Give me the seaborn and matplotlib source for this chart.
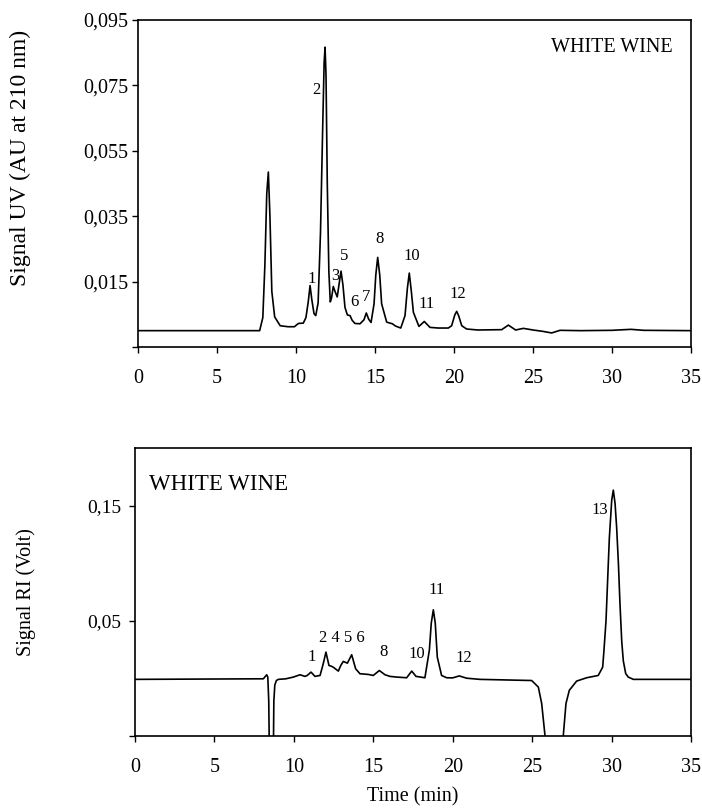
import matplotlib
matplotlib.use("Agg")
import matplotlib.pyplot as plt
import seaborn as sns
import pandas as pd

# ---------------- data ----------------
uv_time = [0, 7.7, 7.9, 8.03, 8.15, 8.25, 8.35, 8.47, 8.65, 9.0, 9.5, 9.9, 10.15, 10.46,
           10.63, 10.78, 10.89, 11.0, 11.14, 11.25, 11.40, 11.55, 11.68, 11.78, 11.84,
           11.90, 11.98, 12.08, 12.17, 12.25, 12.36, 12.47, 12.61, 12.72, 12.85, 12.97,
           13.1, 13.25, 13.42, 13.55, 13.73, 14.05, 14.3, 14.45, 14.6, 14.75, 14.94,
           15.05, 15.17, 15.3, 15.42, 15.74, 16.1, 16.3, 16.63, 16.9, 17.05, 17.17,
           17.3, 17.43, 17.78, 18.12, 18.48, 19.0, 19.64, 19.85, 20.05, 20.17, 20.3,
           20.49, 20.8, 21.5, 23.02, 23.44, 23.9, 24.39, 25.0, 25.6, 26.18, 26.71, 28,
           30, 31.2, 32, 35]
uv_signal = [0.0, 0.0, 0.004, 0.02, 0.042, 0.0485, 0.035, 0.012, 0.0042, 0.0015, 0.0012,
             0.0012, 0.0022, 0.0023, 0.004, 0.009, 0.0138, 0.0095, 0.0052, 0.0046, 0.0085,
             0.030, 0.060, 0.082, 0.0867, 0.078, 0.045, 0.018, 0.0088, 0.010, 0.0135,
             0.012, 0.0103, 0.014, 0.0182, 0.014, 0.0071, 0.0048, 0.0046, 0.0032, 0.0022,
             0.0021, 0.0033, 0.0054, 0.0035, 0.0025, 0.0082, 0.017, 0.0224, 0.017, 0.0082,
             0.0026, 0.0021, 0.0014, 0.0008, 0.0046, 0.013, 0.0176, 0.012, 0.0056, 0.0013,
             0.0028, 0.0010, 0.0008, 0.0008, 0.0015, 0.0048, 0.0059, 0.0045, 0.0015,
             0.0005, 0.0002, 0.0003, 0.0017, 0.0002, 0.0007, 0.0002, -0.0002, -0.0007,
             0.0001, 0.0, 0.0001, 0.0004, 0.0001, 0.0]

ri_time = [0, 8.08, 8.29, 8.36, 8.42, 8.47, 8.70, 8.74, 8.80, 8.90, 9.02, 9.5, 9.97, 10.39,
           10.7, 10.85, 11.08, 11.33, 11.65, 11.85, 12.02, 12.21, 12.35, 12.48, 12.8,
           12.95, 13.11, 13.37, 13.64, 13.89, 14.16, 14.69, 15.0, 15.38, 15.74, 16.05,
           16.47, 17.1, 17.42, 17.69, 18.25, 18.53, 18.65, 18.78, 18.9, 19.03, 19.3,
           19.62, 20.0, 20.41, 20.88, 21.72, 24.97, 25.39, 25.6, 25.81, 25.9, 26.9,
           26.96, 27.13, 27.34, 27.8, 28.43, 29.16, 29.44, 29.52, 29.65, 29.76, 29.86,
           30.01, 30.11, 30.22, 30.32, 30.43, 30.53, 30.64, 30.74, 30.89, 31.05, 31.37, 35]
ri_signal = [-0.001, -0.0005, 0.003, 0.001, -0.02, -0.08, -0.08, -0.02, -0.006, -0.002,
             -0.001, -0.0005, 0.001, 0.003, 0.0016, 0.0025, 0.0053, 0.0016, 0.0024, 0.0126,
             0.0227, 0.0111, 0.0105, 0.0096, 0.0062, 0.011, 0.0146, 0.0131, 0.0204, 0.0082,
             0.0039, 0.0033, 0.0024, 0.0067, 0.003, 0.0016, 0.001, 0.0004, 0.0062, 0.0016,
             0.0004, 0.0244, 0.048, 0.0595, 0.048, 0.0183, 0.0024, 0.0004, 0.0003, 0.002,
             0.0, -0.001, -0.002, -0.0077, -0.022, -0.05, -0.08, -0.08, -0.05, -0.022,
             -0.0105, -0.0025, 0.0004, 0.0024, 0.0096, 0.024, 0.05, 0.088, 0.122, 0.155,
             0.1636, 0.152, 0.131, 0.100, 0.0644, 0.032, 0.015, 0.004, 0.001, -0.001, -0.001]

x_ticks = [0, 5, 10, 15, 20, 25, 30, 35]
uv_yticks = [-0.005, 0.015, 0.035, 0.055, 0.075, 0.095]
uv_yticklabels = ["", "0,015", "0,035", "0,055", "0,075", "0,095"]
ri_yticks = [-0.05, 0.05, 0.15]
ri_yticklabels = ["", "0,05", "0,15"]

uv_peak_labels = ["1", "2", "3", "5", "6", "7", "8", "10", "11", "12"]
uv_label_x = [10.99, 11.31, 12.51, 13.04, 13.67, 14.43, 15.32, 17.36, 18.27, 20.27]
uv_label_y = [0.0158, 0.0735, 0.0168, 0.0227, 0.0089, 0.0102, 0.0281, 0.0227, 0.0082, 0.0112]

ri_peak_labels = ["1", "2 4 5 6", "8", "10", "11", "12", "13"]
ri_label_x = [11.12, 13.05, 15.63, 17.73, 18.99, 20.67, 29.27]
ri_label_y = [0.0183, 0.035, 0.0226, 0.0212, 0.0765, 0.0178, 0.1465]

# ---------------- style ----------------
sns.set_style("ticks")
plt.rcParams["font.family"] = ["Liberation Serif", "DejaVu Serif"]
plt.rcParams["axes.linewidth"] = 1.2
plt.rcParams["text.color"] = "black"
plt.rcParams["axes.labelcolor"] = "black"
plt.rcParams["xtick.color"] = "black"
plt.rcParams["ytick.color"] = "black"

fig = plt.figure(figsize=(7.02, 8.09), dpi=100)
W, H = 702, 809
ax1 = fig.add_axes([138 / W, 1 - 347 / H, (691 - 138) / W, (347 - 20) / H])
ax2 = fig.add_axes([135 / W, 1 - 735.7 / H, (691 - 135) / W, (735.7 - 448.3) / H])

uv_df = pd.DataFrame({"time": uv_time, "signal": uv_signal})
ri_df = pd.DataFrame({"time": ri_time, "signal": ri_signal})

sns.lineplot(data=uv_df, x="time", y="signal", ax=ax1, color="black", lw=1.2,
             estimator=None, sort=False)
sns.lineplot(data=ri_df, x="time", y="signal", ax=ax2, color="black", lw=1.2,
             estimator=None, sort=False)

for ax in (ax1, ax2):
    for s in ax.spines.values():
        s.set_visible(True)
        s.set_color("black")
        s.set_linewidth(1.2)
    ax.set_xlim(0, 35)
    ax.set_xticks(x_ticks)
    ax.set_xticklabels([str(v) for v in x_ticks])
    ax.tick_params(axis="x", direction="out", length=4, width=1, pad=12,
                   labelsize=14.5, colors="black")
    ax.set_xlabel("")
    ax.set_ylabel("")

ax1.set_ylim(-0.005, 0.095)
ax1.set_yticks(uv_yticks)
ax1.set_yticklabels(uv_yticklabels)
ax1.tick_params(axis="y", direction="out", length=4, width=1, pad=3, labelsize=14.5,
                colors="black")

ax2.set_ylim(-0.05, 0.2)
ax2.set_yticks(ri_yticks)
ax2.set_yticklabels(ri_yticklabels)
ax2.tick_params(axis="y", direction="out", length=4, width=1, pad=6, labelsize=14,
                colors="black")

for lab, x, y in zip(uv_peak_labels, uv_label_x, uv_label_y):
    ax1.text(x, y, lab, ha="center", va="center", fontsize=12, color="black")
for lab, x, y in zip(ri_peak_labels, ri_label_x, ri_label_y):
    ax2.text(x, y, lab, ha="center", va="center", fontsize=12, color="black")

ax1.text(33.85, 0.0867, "WHITE WINE", ha="right", va="center", fontsize=14.5,
         color="black")
ax2.text(0.88, 0.1687, "WHITE WINE", ha="left", va="center", fontsize=16.5,
         color="black")

fig.text(20 / W, 1 - 158 / H, "Signal UV (AU at 210 nm)", rotation=90,
         ha="center", va="center", fontsize=17, color="black")
fig.text(26 / W, 1 - 591.7 / H, "Signal RI (Volt)", rotation=90,
         ha="center", va="center", fontsize=14.5, color="black")
fig.text(413 / W, 1 - 797 / H, "Time (min)", ha="center", va="center", fontsize=14.5,
         color="black")

fig.savefig("out.png", dpi=100)
